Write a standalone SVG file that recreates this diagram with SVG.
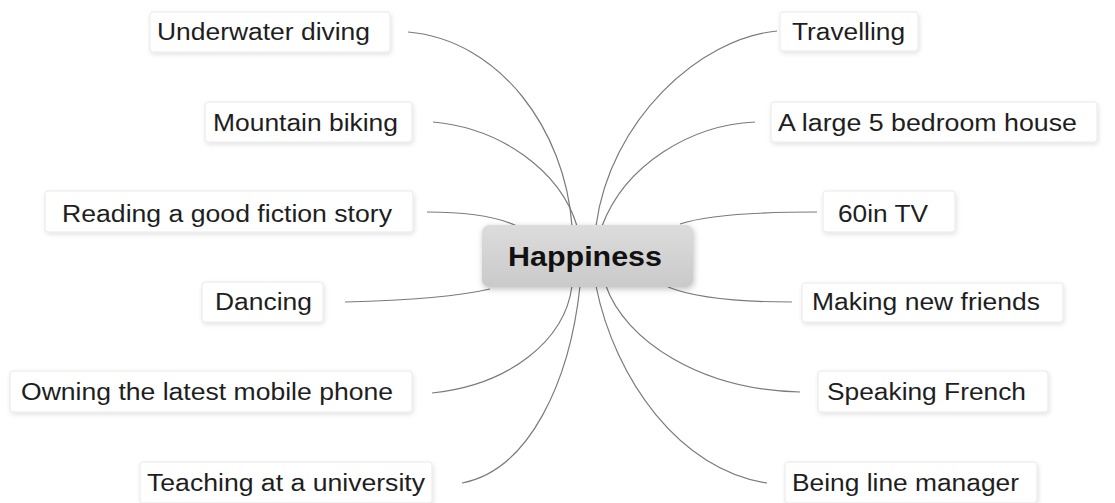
<svg xmlns="http://www.w3.org/2000/svg" width="1115" height="503" viewBox="0 0 1115 503">
<defs>
<filter id="sh" x="-10%" y="-30%" width="120%" height="160%">
<feGaussianBlur in="SourceAlpha" stdDeviation="2.5"/>
<feOffset dx="1" dy="2" result="b"/>
<feComponentTransfer><feFuncA type="linear" slope="0.12"/></feComponentTransfer>
<feMerge><feMergeNode/><feMergeNode in="SourceGraphic"/></feMerge>
</filter>
<filter id="shc" x="-10%" y="-30%" width="120%" height="160%">
<feGaussianBlur in="SourceAlpha" stdDeviation="3"/>
<feOffset dx="1" dy="2" result="b"/>
<feComponentTransfer><feFuncA type="linear" slope="0.25"/></feComponentTransfer>
<feMerge><feMergeNode/><feMergeNode in="SourceGraphic"/></feMerge>
</filter>
<linearGradient id="cg" x1="0" y1="0" x2="0" y2="1">
<stop offset="0" stop-color="#dcdcdc"/>
<stop offset="1" stop-color="#cacaca"/>
</linearGradient>
</defs>
<style>
.box{fill:#ffffff;stroke:#e9e9e9;stroke-width:1;filter:url(#sh)}
.t{font-family:"Liberation Sans",Arial,sans-serif;font-size:23.5px;fill:#1e1e1e}
.c{font-family:"Liberation Sans",Arial,sans-serif;font-size:27px;font-weight:bold;fill:#111}
.ln{fill:none;stroke:#7a7a7a;stroke-width:1.2}
</style>
<rect width="1115" height="503" fill="#ffffff"/>
<g id="connectors">
<path class="ln" d="M408,32 C500,40 565,130 572,226"/>
<path class="ln" d="M433,122 C500,128 560,170 577,226"/>
<path class="ln" d="M427,212 C470,212 500,218 517,226"/>
<path class="ln" d="M345,302 C420,300 460,296 490,289"/>
<path class="ln" d="M432,393 C510,385 565,340 572,286"/>
<path class="ln" d="M462,483 C530,470 570,380 580,286"/>
<path class="ln" d="M777,31 C700,38 610,120 596,226"/>
<path class="ln" d="M755,122 C690,125 625,165 602,226"/>
<path class="ln" d="M817,212 C770,212 710,214 680,224"/>
<path class="ln" d="M792,302 C750,302 700,300 668,287"/>
<path class="ln" d="M800,392 C700,390 625,340 606,286"/>
<path class="ln" d="M767,483 C680,470 615,380 596,286"/>
</g>
<g id="center">
<rect x="482" y="225" width="211" height="62" rx="7" fill="url(#cg)" filter="url(#shc)"/>
<text class="c" x="508" y="266" textLength="154" lengthAdjust="spacingAndGlyphs">Happiness</text>
</g>
<g id="n-underwater">
<rect class="box" x="150" y="12" width="240" height="40" rx="3"/>
<text class="t" x="157" y="40" textLength="213" lengthAdjust="spacingAndGlyphs">Underwater diving</text>
</g>
<g id="n-mountain">
<rect class="box" x="205" y="102" width="207" height="40" rx="3"/>
<text class="t" x="213" y="131" textLength="185" lengthAdjust="spacingAndGlyphs">Mountain biking</text>
</g>
<g id="n-reading">
<rect class="box" x="45" y="191" width="368" height="41" rx="3"/>
<text class="t" x="62" y="222" textLength="330" lengthAdjust="spacingAndGlyphs">Reading a good fiction story</text>
</g>
<g id="n-dancing">
<rect class="box" x="202" y="282" width="121" height="40" rx="3"/>
<text class="t" x="215" y="310" textLength="97" lengthAdjust="spacingAndGlyphs">Dancing</text>
</g>
<g id="n-owning">
<rect class="box" x="10" y="371" width="402" height="41" rx="3"/>
<text class="t" x="21" y="400" textLength="372" lengthAdjust="spacingAndGlyphs">Owning the latest mobile phone</text>
</g>
<g id="n-teaching">
<rect class="box" x="140" y="462" width="292" height="41" rx="3"/>
<text class="t" x="147" y="491" textLength="278" lengthAdjust="spacingAndGlyphs">Teaching at a university</text>
</g>
<g id="n-travelling">
<rect class="box" x="780" y="12" width="138" height="39" rx="3"/>
<text class="t" x="792" y="40" textLength="113" lengthAdjust="spacingAndGlyphs">Travelling</text>
</g>
<g id="n-house">
<rect class="box" x="771" y="102" width="326" height="40" rx="3"/>
<text class="t" x="778" y="131" textLength="299" lengthAdjust="spacingAndGlyphs">A large 5 bedroom house</text>
</g>
<g id="n-tv">
<rect class="box" x="823" y="191" width="132" height="41" rx="3"/>
<text class="t" x="838" y="222" textLength="90" lengthAdjust="spacingAndGlyphs">60in TV</text>
</g>
<g id="n-friends">
<rect class="box" x="802" y="283" width="261" height="39" rx="3"/>
<text class="t" x="812" y="310" textLength="228" lengthAdjust="spacingAndGlyphs">Making new friends</text>
</g>
<g id="n-french">
<rect class="box" x="818" y="371" width="230" height="41" rx="3"/>
<text class="t" x="827" y="400" textLength="199" lengthAdjust="spacingAndGlyphs">Speaking French</text>
</g>
<g id="n-manager">
<rect class="box" x="785" y="462" width="252" height="41" rx="3"/>
<text class="t" x="792" y="491" textLength="227" lengthAdjust="spacingAndGlyphs">Being line manager</text>
</g>
</svg>
